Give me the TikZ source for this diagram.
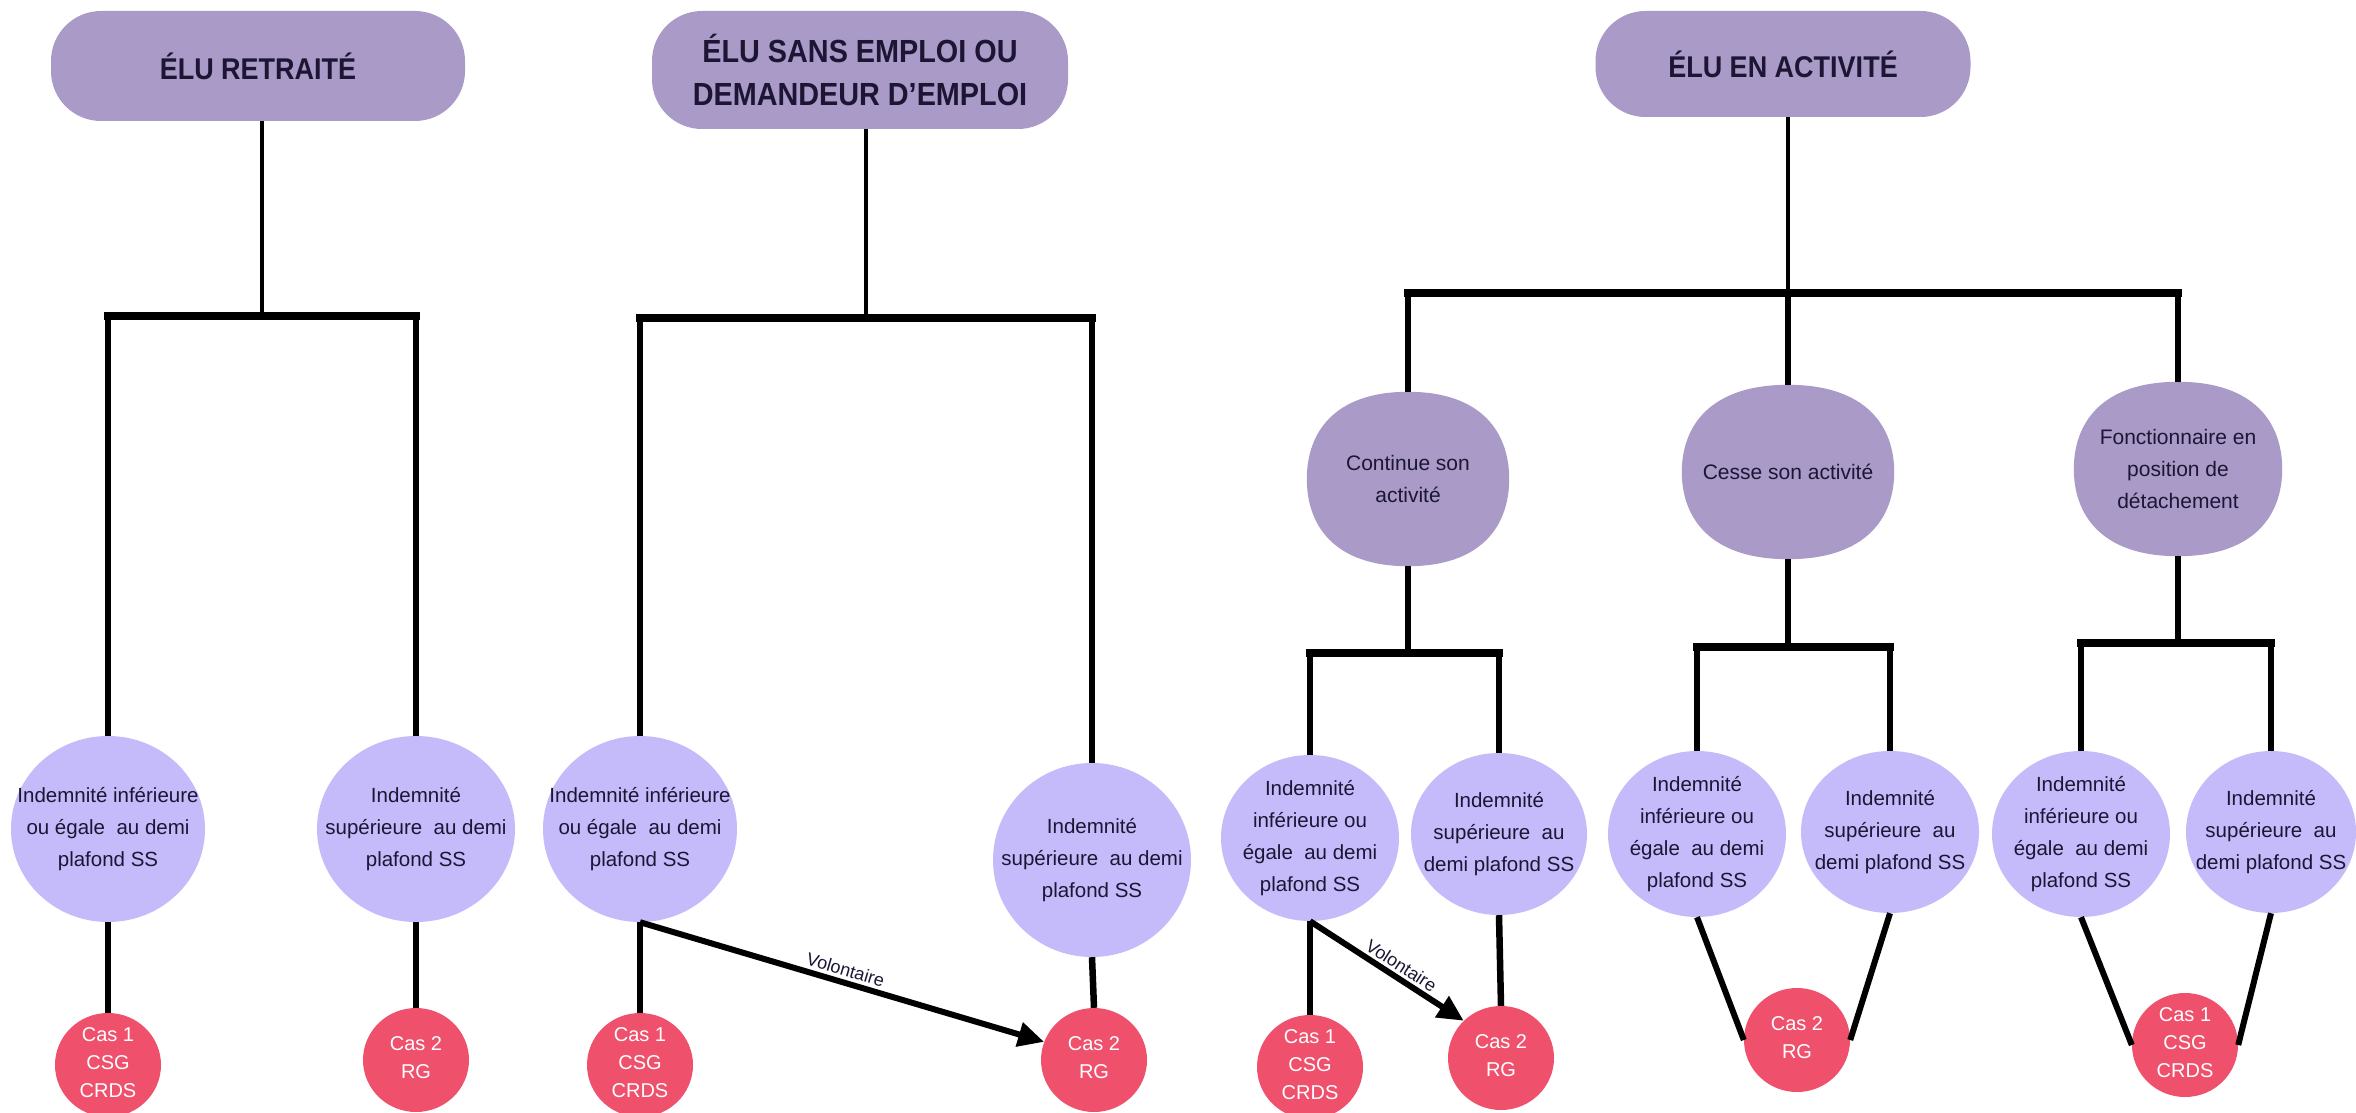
\documentclass[tikz,border=0pt]{standalone}
\usepackage{fontspec}
\setmainfont{Liberation Sans}
\newfontfamily\titlefont[FakeStretch=0.9]{Liberation Sans}
\usetikzlibrary{shapes.geometric,arrows.meta,calc,backgrounds}
\definecolor{topfill}{RGB}{169,154,200}
\definecolor{subfill}{RGB}{197,187,250}
\definecolor{redfill}{RGB}{239,80,108}
\definecolor{txt}{RGB}{28,22,52}
\newcommand{\ctext}[1]{\smash{\makebox[0pt]{\raisebox{-4pt}{\begin{tabular}{@{}c@{}}#1\end{tabular}}}}}
\newcommand{\barrelfill}[1]{%
  \fill[topfill] (#1.west)
    .. controls ($(#1.west)!0.52!(#1.north west)$) and ($(#1.north)!0.74!(#1.north west)$) .. (#1.north)
    .. controls ($(#1.north)!0.74!(#1.north east)$) and ($(#1.east)!0.52!(#1.north east)$) .. (#1.east)
    .. controls ($(#1.east)!0.52!(#1.south east)$) and ($(#1.south)!0.74!(#1.south east)$) .. (#1.south)
    .. controls ($(#1.south)!0.74!(#1.south west)$) and ($(#1.west)!0.52!(#1.south west)$) .. (#1.west)
    -- cycle;}
\begin{document}
\begin{tikzpicture}[x=1pt,y=-1pt,
  topbox/.style={rectangle, rounded corners=50pt, fill=topfill, inner sep=0pt, align=center,
    font=\titlefont\bfseries\fontsize{30}{43}\selectfont, text=txt},
  midbox/.style={rectangle, inner sep=0pt, align=center,
    font=\fontsize{21}{32}\selectfont, text=txt, minimum height=174pt},
  subell/.style={ellipse, fill=subfill, inner sep=0pt, font=\fontsize{20.5}{32}\selectfont, text=txt},
  redell/.style={ellipse, fill=redfill, inner sep=0pt, font=\fontsize{20}{28}\selectfont, text=white,
    minimum width=106pt, minimum height=104pt},
  thinline/.style={line width=4.5pt, black},
  midline/.style={line width=5.5pt, black},
  barline/.style={line width=8pt, black, line cap=rect},
  legline/.style={line width=6.5pt, black},
  diagline/.style={line width=6pt, black},
  arrowline/.style={line width=6pt, black, -{Triangle[length=26pt,width=24pt]}},
  vol/.style={font=\fontsize{18}{22}\selectfont, text=txt, inner sep=3pt}
]
\useasboundingbox (0,0) rectangle (2356,1113);

% top boxes
\node[topbox, minimum width=414pt, minimum height=110pt] (A) at (258,66) {ÉLU RETRAITÉ};
\node[topbox, minimum width=416pt, minimum height=118pt, font=\titlefont\bfseries\fontsize{32}{43}\selectfont] (B) at (860,70) {ÉLU SANS EMPLOI OU\\DEMANDEUR D’EMPLOI};
\node[topbox, minimum width=375pt, minimum height=106pt] (C) at (1783,64) {ÉLU EN ACTIVITÉ};

% middle boxes (barrel shapes filled on the background layer)
\node[midbox, minimum width=202pt] (M1) at (1408,479) {Continue son\\activité};
\node[midbox, minimum width=212pt] (M2) at (1788,472) {Cesse son activité};
\node[midbox, minimum width=208pt] (M3) at (2178,469) {Fonctionnaire en\\position de\\détachement};
\begin{scope}[on background layer]
  \fill[white] (0,0) rectangle (2356,1113);
  \barrelfill{M1}
  \barrelfill{M2}
  \barrelfill{M3}
\end{scope}

% bottom ellipses
\node[subell, minimum width=194pt, minimum height=186pt] (E1) at (108,829) {\ctext{Indemnité inférieure\\ou égale~ au demi\\plafond SS}};
\node[subell, minimum width=198pt, minimum height=186pt] (E2) at (416,829) {\ctext{Indemnité\\supérieure~ au demi\\plafond SS}};
\node[subell, minimum width=194pt, minimum height=186pt] (E3) at (640,829) {\ctext{Indemnité inférieure\\ou égale~ au demi\\plafond SS}};
\node[subell, minimum width=198pt, minimum height=194pt] (E4) at (1092,860) {\ctext{Indemnité\\supérieure~ au demi\\plafond SS}};
\node[subell, minimum width=178pt, minimum height=166pt] (E5) at (1310,838) {\ctext{Indemnité\\inférieure ou\\égale~ au demi\\plafond SS}};
\node[subell, minimum width=176pt, minimum height=162pt] (E6) at (1499,834) {\ctext{Indemnité\\supérieure~ au\\demi plafond SS}};
\node[subell, minimum width=178pt, minimum height=166pt] (E7) at (1697,834) {\ctext{Indemnité\\inférieure ou\\égale~ au demi\\plafond SS}};
\node[subell, minimum width=178pt, minimum height=162pt] (E8) at (1890,832) {\ctext{Indemnité\\supérieure~ au\\demi plafond SS}};
\node[subell, minimum width=178pt, minimum height=166pt] (E9) at (2081,834) {\ctext{Indemnité\\inférieure ou\\égale~ au demi\\plafond SS}};
\node[subell, minimum width=170pt, minimum height=162pt] (E10) at (2271,832) {\ctext{Indemnité\\supérieure~ au\\demi plafond SS}};

% red circles
\node[redell] (R1) at (108,1065) {\ctext{Cas 1\\CSG\\CRDS}};
\node[redell] (R2) at (416,1060) {\ctext{Cas 2\\RG}};
\node[redell] (R3) at (640,1065) {\ctext{Cas 1\\CSG\\CRDS}};
\node[redell] (R4) at (1094,1060) {\ctext{Cas 2\\RG}};
\node[redell] (R5) at (1310,1067) {\ctext{Cas 1\\CSG\\CRDS}};
\node[redell] (R6) at (1501,1058) {\ctext{Cas 2\\RG}};
\node[redell] (R7) at (1797,1040) {\ctext{Cas 2\\RG}};
\node[redell] (R8) at (2185,1045) {\ctext{Cas 1\\CSG\\CRDS}};

% junction coordinates
\coordinate (jA) at (262,316);
\coordinate (jB) at (866,318);
\coordinate (jC) at (1788,293);
\coordinate (jM1) at (1408,653);
\coordinate (jM2) at (1788,647);
\coordinate (jM3) at (2178,643);

% tree A
\draw[thinline] (A.south -| jA) -- (jA);
\draw[legline] (E1.north |- jA) -- (E1.north);
\draw[legline] (E2.north |- jA) -- (E2.north);
\draw[barline] (E1.north |- jA) -- (E2.north |- jA);

% tree B
\draw[thinline] (B.south -| jB) -- (jB);
\draw[legline] (E3.north |- jB) -- (E3.north);
\draw[legline] (E4.north |- jB) -- (E4.north);
\draw[barline] (E3.north |- jB) -- (E4.north |- jB);

% tree C
\draw[thinline] (C.south -| jC) -- (jC);
\draw[legline] (M1.north |- jC) -- (M1.north);
\draw[legline] (M2.north |- jC) -- (M2.north);
\draw[legline] (M3.north |- jC) -- (M3.north);
\draw[barline] (M1.north |- jC) -- (M3.north |- jC);

\draw[midline] (M1.south) -- (jM1);
\draw[legline] (E5.north |- jM1) -- (E5.north);
\draw[legline] (E6.north |- jM1) -- (E6.north);
\draw[barline] (E5.north |- jM1) -- (E6.north |- jM1);

\draw[midline] (M2.south) -- (jM2);
\draw[legline] (E7.north |- jM2) -- (E7.north);
\draw[legline] (E8.north |- jM2) -- (E8.north);
\draw[barline] (E7.north |- jM2) -- (E8.north |- jM2);

\draw[midline] (M3.south) -- (jM3);
\draw[legline] (E9.north |- jM3) -- (E9.north);
\draw[legline] (E10.north |- jM3) -- (E10.north);
\draw[barline] (E9.north |- jM3) -- (E10.north |- jM3);

% ellipses to red circles
\draw[legline] (E1.south) -- (R1.north);
\draw[legline] (E2.south) -- (R2.north);
\draw[legline] (E3.south) -- (R3.north);
\draw[legline] (E4.south) -- (R4.north);
\draw[legline] (E5.south) -- (R5.north);
\draw[legline] (E6.south) -- (R6.north);
\draw[diagline] (E7.south) -- (R7.west);
\draw[diagline] (E8.south) -- (R7.east);
\draw[diagline] (E9.south) -- (R8.west);
\draw[diagline] (E10.south) -- (R8.east);

% voluntary arrows
\draw[arrowline] (E3.south) -- node[vol, sloped, above, pos=0.5] {Volontaire} (R4.160);
\draw[arrowline] (E5.south) -- node[vol, sloped, above, pos=0.55] {Volontaire} (R6.135);
\end{tikzpicture}
\end{document}
